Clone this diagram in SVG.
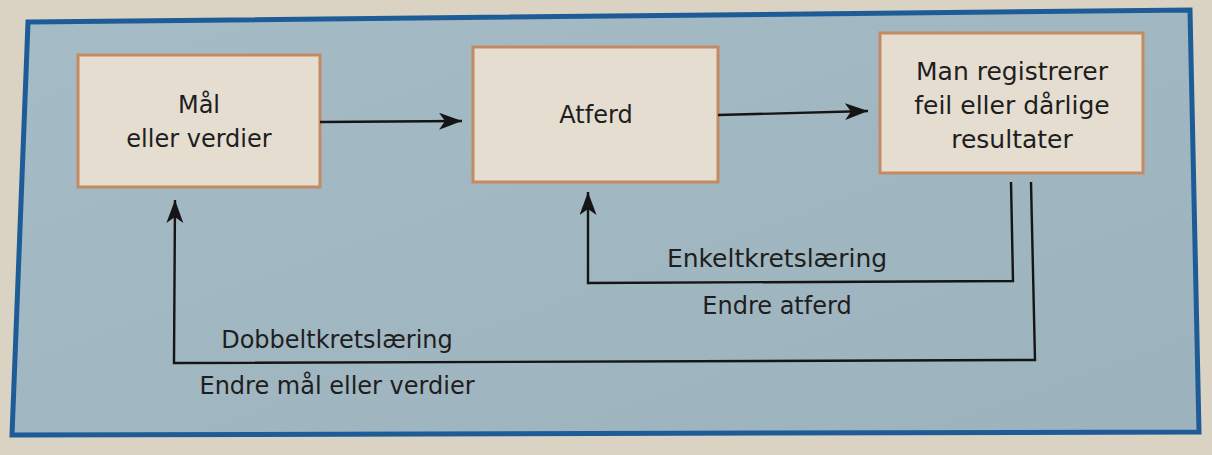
<svg xmlns="http://www.w3.org/2000/svg" width="1212" height="455" viewBox="0 0 1212 455">
  <defs>
    <style>
      .box { fill: #e4ddd0; stroke: #c48a62; stroke-width: 3; }
      .lbl { font-family: "DejaVu Sans", "Liberation Sans", sans-serif; fill: #1e1e1e; text-anchor: middle; }
      .conn { fill: none; stroke: #151515; stroke-width: 2.4; stroke-linejoin: miter; }
    </style>
    <marker id="arr" markerUnits="userSpaceOnUse" markerWidth="26" markerHeight="20" refX="23" refY="8.5" orient="auto">
      <path d="M0,0 L23,8.5 L0,17 L6,8.5 z" fill="#151515"/>
    </marker>
    <linearGradient id="panel" x1="0" y1="0" x2="1" y2="1">
      <stop offset="0" stop-color="#a5bbc6"/>
      <stop offset="1" stop-color="#9cb2bd"/>
    </linearGradient>
  </defs>

  <rect x="0" y="0" width="1212" height="455" fill="#dad3c4"/>
  <polygon id="frame" points="28,22 1190,10 1199,432 12,435" fill="url(#panel)" stroke="#1d5c96" stroke-width="5"/>

  <g id="node-maal">
    <rect class="box" x="78" y="55" width="242" height="132"/>
    <text class="lbl" x="199" y="113" font-size="24">Mål</text>
    <text class="lbl" x="199" y="147" font-size="24">eller verdier</text>
  </g>

  <g id="node-atferd">
    <rect class="box" x="473" y="47" width="245" height="135"/>
    <text class="lbl" x="596" y="123" font-size="24">Atferd</text>
  </g>

  <g id="node-resultater">
    <rect class="box" x="880" y="33" width="263" height="140"/>
    <text class="lbl" x="1012" y="80" font-size="25">Man registrerer</text>
    <text class="lbl" x="1012" y="114" font-size="25">feil eller dårlige</text>
    <text class="lbl" x="1012" y="148" font-size="25">resultater</text>
  </g>

  <g id="connectors">
    <path class="conn" d="M320,122 L462,121" marker-end="url(#arr)"/>
    <path class="conn" d="M718,115 L868,111" marker-end="url(#arr)"/>
    <path class="conn" d="M1011,182 L1013,281 L588,283 L588,192" marker-end="url(#arr)"/>
    <path class="conn" d="M1031,182 L1035,360 L174,363 L175,200" marker-end="url(#arr)"/>
  </g>

  <g id="labels">
    <text class="lbl" x="777" y="267" font-size="25">Enkeltkretslæring</text>
    <text class="lbl" x="777" y="314" font-size="24">Endre atferd</text>
    <text class="lbl" x="337" y="348" font-size="24">Dobbeltkretslæring</text>
    <text class="lbl" x="337" y="394" font-size="24">Endre mål eller verdier</text>
  </g>
</svg>
